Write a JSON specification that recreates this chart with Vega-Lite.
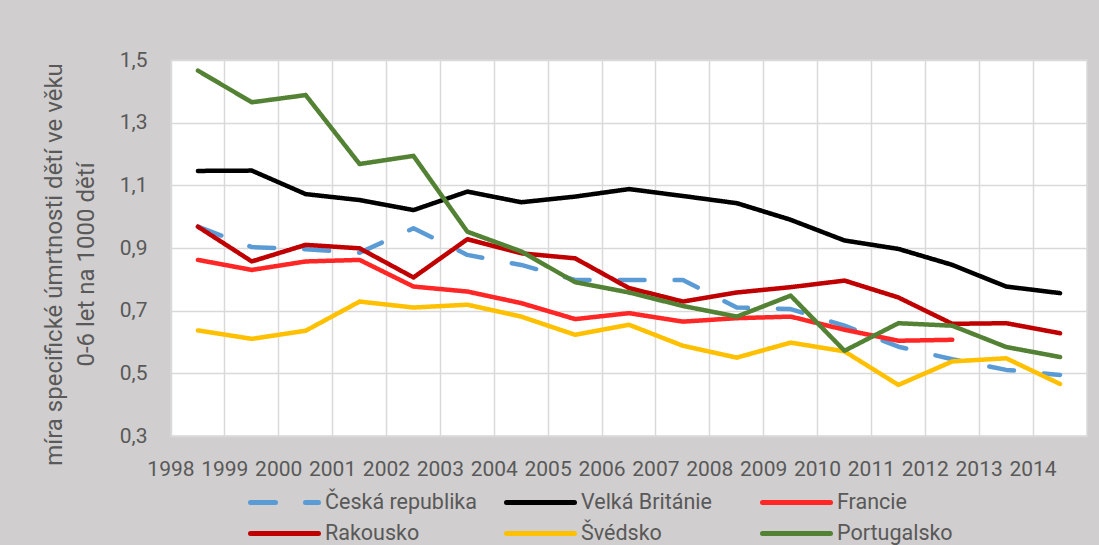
{
  "$schema": "https://vega.github.io/schema/vega-lite/v6.json",
  "width": 916,
  "height": 376,
  "autosize": {"type": "none"},
  "padding": {"left": 171, "top": 60, "right": 12, "bottom": 109},
  "background": "#D0CECE",
  "config": {
    "font": "Roboto",
    "view": {"fill": "white", "stroke": "#D9D9D9", "strokeWidth": 1.5}
  },
  "datasets": {
    "d": [
      {"rok": "1998", "zeme": "Česká republika", "hodnota": 0.968},
      {"rok": "1999", "zeme": "Česká republika", "hodnota": 0.903},
      {"rok": "2000", "zeme": "Česká republika", "hodnota": 0.896},
      {"rok": "2001", "zeme": "Česká republika", "hodnota": 0.885},
      {"rok": "2002", "zeme": "Česká republika", "hodnota": 0.963},
      {"rok": "2003", "zeme": "Česká republika", "hodnota": 0.878},
      {"rok": "2004", "zeme": "Česká republika", "hodnota": 0.846},
      {"rok": "2005", "zeme": "Česká republika", "hodnota": 0.798},
      {"rok": "2006", "zeme": "Česká republika", "hodnota": 0.798},
      {"rok": "2007", "zeme": "Česká republika", "hodnota": 0.798},
      {"rok": "2008", "zeme": "Česká republika", "hodnota": 0.71},
      {"rok": "2009", "zeme": "Česká republika", "hodnota": 0.705},
      {"rok": "2010", "zeme": "Česká republika", "hodnota": 0.652},
      {"rok": "2011", "zeme": "Česká republika", "hodnota": 0.585},
      {"rok": "2012", "zeme": "Česká republika", "hodnota": 0.545},
      {"rok": "2013", "zeme": "Česká republika", "hodnota": 0.511},
      {"rok": "2014", "zeme": "Česká republika", "hodnota": 0.495},
      {"rok": "1998", "zeme": "Velká Británie", "hodnota": 1.146},
      {"rok": "1999", "zeme": "Velká Británie", "hodnota": 1.147},
      {"rok": "2000", "zeme": "Velká Británie", "hodnota": 1.072},
      {"rok": "2001", "zeme": "Velká Británie", "hodnota": 1.053},
      {"rok": "2002", "zeme": "Velká Británie", "hodnota": 1.021},
      {"rok": "2003", "zeme": "Velká Británie", "hodnota": 1.08},
      {"rok": "2004", "zeme": "Velká Británie", "hodnota": 1.046},
      {"rok": "2005", "zeme": "Velká Británie", "hodnota": 1.064},
      {"rok": "2006", "zeme": "Velká Británie", "hodnota": 1.088},
      {"rok": "2007", "zeme": "Velká Británie", "hodnota": 1.066},
      {"rok": "2008", "zeme": "Velká Británie", "hodnota": 1.043},
      {"rok": "2009", "zeme": "Velká Británie", "hodnota": 0.99},
      {"rok": "2010", "zeme": "Velká Británie", "hodnota": 0.924},
      {"rok": "2011", "zeme": "Velká Británie", "hodnota": 0.897},
      {"rok": "2012", "zeme": "Velká Británie", "hodnota": 0.846},
      {"rok": "2013", "zeme": "Velká Británie", "hodnota": 0.777},
      {"rok": "2014", "zeme": "Velká Británie", "hodnota": 0.756},
      {"rok": "1998", "zeme": "Francie", "hodnota": 0.862},
      {"rok": "1999", "zeme": "Francie", "hodnota": 0.83},
      {"rok": "2000", "zeme": "Francie", "hodnota": 0.857},
      {"rok": "2001", "zeme": "Francie", "hodnota": 0.862},
      {"rok": "2002", "zeme": "Francie", "hodnota": 0.777},
      {"rok": "2003", "zeme": "Francie", "hodnota": 0.761},
      {"rok": "2004", "zeme": "Francie", "hodnota": 0.724},
      {"rok": "2005", "zeme": "Francie", "hodnota": 0.673},
      {"rok": "2006", "zeme": "Francie", "hodnota": 0.692},
      {"rok": "2007", "zeme": "Francie", "hodnota": 0.665},
      {"rok": "2008", "zeme": "Francie", "hodnota": 0.676},
      {"rok": "2009", "zeme": "Francie", "hodnota": 0.681},
      {"rok": "2010", "zeme": "Francie", "hodnota": 0.639},
      {"rok": "2011", "zeme": "Francie", "hodnota": 0.604},
      {"rok": "2012", "zeme": "Francie", "hodnota": 0.607},
      {"rok": "1998", "zeme": "Rakousko", "hodnota": 0.968},
      {"rok": "1999", "zeme": "Rakousko", "hodnota": 0.857},
      {"rok": "2000", "zeme": "Rakousko", "hodnota": 0.91},
      {"rok": "2001", "zeme": "Rakousko", "hodnota": 0.899},
      {"rok": "2002", "zeme": "Rakousko", "hodnota": 0.806},
      {"rok": "2003", "zeme": "Rakousko", "hodnota": 0.928},
      {"rok": "2004", "zeme": "Rakousko", "hodnota": 0.883},
      {"rok": "2005", "zeme": "Rakousko", "hodnota": 0.867},
      {"rok": "2006", "zeme": "Rakousko", "hodnota": 0.772},
      {"rok": "2007", "zeme": "Rakousko", "hodnota": 0.729},
      {"rok": "2008", "zeme": "Rakousko", "hodnota": 0.758},
      {"rok": "2009", "zeme": "Rakousko", "hodnota": 0.775},
      {"rok": "2010", "zeme": "Rakousko", "hodnota": 0.796},
      {"rok": "2011", "zeme": "Rakousko", "hodnota": 0.742},
      {"rok": "2012", "zeme": "Rakousko", "hodnota": 0.658},
      {"rok": "2013", "zeme": "Rakousko", "hodnota": 0.66},
      {"rok": "2014", "zeme": "Rakousko", "hodnota": 0.628},
      {"rok": "1998", "zeme": "Švédsko", "hodnota": 0.637},
      {"rok": "1999", "zeme": "Švédsko", "hodnota": 0.61},
      {"rok": "2000", "zeme": "Švédsko", "hodnota": 0.636},
      {"rok": "2001", "zeme": "Švédsko", "hodnota": 0.729},
      {"rok": "2002", "zeme": "Švédsko", "hodnota": 0.71},
      {"rok": "2003", "zeme": "Švédsko", "hodnota": 0.719},
      {"rok": "2004", "zeme": "Švédsko", "hodnota": 0.681},
      {"rok": "2005", "zeme": "Švédsko", "hodnota": 0.623},
      {"rok": "2006", "zeme": "Švédsko", "hodnota": 0.655},
      {"rok": "2007", "zeme": "Švédsko", "hodnota": 0.588},
      {"rok": "2008", "zeme": "Švédsko", "hodnota": 0.55},
      {"rok": "2009", "zeme": "Švédsko", "hodnota": 0.598},
      {"rok": "2010", "zeme": "Švédsko", "hodnota": 0.57},
      {"rok": "2011", "zeme": "Švédsko", "hodnota": 0.463},
      {"rok": "2012", "zeme": "Švédsko", "hodnota": 0.538},
      {"rok": "2013", "zeme": "Švédsko", "hodnota": 0.548},
      {"rok": "2014", "zeme": "Švédsko", "hodnota": 0.466},
      {"rok": "1998", "zeme": "Portugalsko", "hodnota": 1.466},
      {"rok": "1999", "zeme": "Portugalsko", "hodnota": 1.365},
      {"rok": "2000", "zeme": "Portugalsko", "hodnota": 1.388},
      {"rok": "2001", "zeme": "Portugalsko", "hodnota": 1.168},
      {"rok": "2002", "zeme": "Portugalsko", "hodnota": 1.194},
      {"rok": "2003", "zeme": "Portugalsko", "hodnota": 0.952},
      {"rok": "2004", "zeme": "Portugalsko", "hodnota": 0.889},
      {"rok": "2005", "zeme": "Portugalsko", "hodnota": 0.791},
      {"rok": "2006", "zeme": "Portugalsko", "hodnota": 0.758},
      {"rok": "2007", "zeme": "Portugalsko", "hodnota": 0.715},
      {"rok": "2008", "zeme": "Portugalsko", "hodnota": 0.681},
      {"rok": "2009", "zeme": "Portugalsko", "hodnota": 0.748},
      {"rok": "2010", "zeme": "Portugalsko", "hodnota": 0.572},
      {"rok": "2011", "zeme": "Portugalsko", "hodnota": 0.66},
      {"rok": "2012", "zeme": "Portugalsko", "hodnota": 0.652},
      {"rok": "2013", "zeme": "Portugalsko", "hodnota": 0.584},
      {"rok": "2014", "zeme": "Portugalsko", "hodnota": 0.552}
    ]
  },
  "data": {"name": "d"},
  "mark": {"type": "line", "strokeWidth": 4.5, "strokeCap": "round", "strokeJoin": "round"},
  "encoding": {
    "x": {
      "field": "rok",
      "type": "ordinal",
      "scale": {"type": "band", "paddingInner": 0, "paddingOuter": 0},
      "axis": {
        "title": null,
        "bandPosition": 0,
        "grid": true,
        "gridColor": "#D9D9D9",
        "gridWidth": 1.5,
        "ticks": false,
        "tickSize": 0,
        "domain": false,
        "labelAngle": 0,
        "labelFont": "Roboto",
        "labelFontSize": 21,
        "labelColor": "#595959",
        "labelPadding": 22,
        "labelOffset": -27,
        "labelBaseline": "top",
        "labelFlush": false,
        "labelOverlap": false
      }
    },
    "y": {
      "field": "hodnota",
      "type": "quantitative",
      "scale": {"domain": [0.3, 1.5], "nice": false, "zero": false},
      "axis": {
        "title": ["míra specifické úmrtnosti dětí ve věku", "0-6 let na 1000 dětí"],
        "values": [0.3, 0.5, 0.7, 0.9, 1.1, 1.3, 1.5],
        "labelExpr": "replace(format(datum.value, '.1f'), '.', ',')",
        "grid": true,
        "gridColor": "#D9D9D9",
        "gridWidth": 1.5,
        "ticks": false,
        "tickSize": 0,
        "domain": false,
        "labelFont": "Roboto",
        "labelFontSize": 21,
        "labelColor": "#595959",
        "labelPadding": 24,
        "titleFont": "Roboto",
        "titleFontSize": 24,
        "titleFontWeight": "normal",
        "titleColor": "#595959",
        "titleAngle": 270,
        "titleX": -110,
        "titleY": 204,
        "titleAlign": "center",
        "titleBaseline": "alphabetic",
        "titleLineHeight": 32
      }
    },
    "color": {
      "field": "zeme",
      "type": "nominal",
      "scale": {
        "domain": ["Česká republika", "Velká Británie", "Francie", "Rakousko", "Švédsko", "Portugalsko"],
        "range": ["#5B9BD5", "#000000", "#FF2626", "#C00000", "#FFC000", "#548235"]
      },
      "legend": {
        "title": null,
        "orient": "none",
        "legendX": 77,
        "legendY": 432,
        "direction": "horizontal",
        "columns": 3,
        "gridAlign": "all",
        "columnPadding": 27,
        "rowPadding": 9,
        "clipHeight": 21,
        "padding": 0,
        "symbolType": "stroke",
        "symbolSize": 4624,
        "symbolStrokeWidth": 5,
        "labelOffset": 4,
        "labelFont": "Roboto",
        "labelFontSize": 21.5,
        "labelColor": "#595959",
        "labelLimit": 400,
        "encode": {"symbols": {"update": {"strokeCap": {"value": "round"}}}}
      }
    },
    "strokeDash": {
      "field": "zeme",
      "type": "nominal",
      "scale": {
        "domain": ["Česká republika", "Velká Británie", "Francie", "Rakousko", "Švédsko", "Portugalsko"],
        "range": [[25, 30], [1, 0], [1, 0], [1, 0], [1, 0], [1, 0]]
      },
      "legend": null
    }
  }
}
